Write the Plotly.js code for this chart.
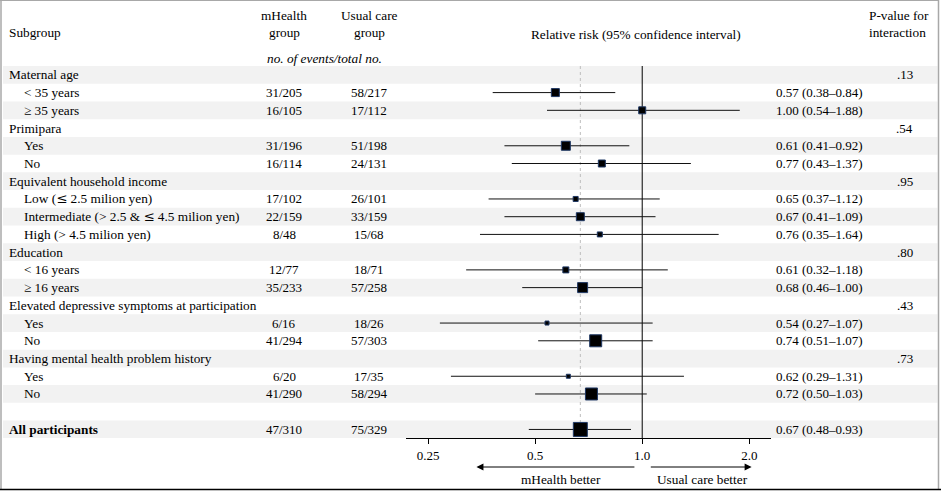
<!DOCTYPE html>
<html><head><meta charset="utf-8">
<script src="https://cdn.plot.ly/plotly-3.0.1.min.js"></script>
<style>html,body{margin:0;padding:0;background:#fff}#chart{width:941px;height:493px}</style>
</head><body><div id="chart"></div>
<script>
// ---------------- DATA ----------------
const rowLabels = ['Maternal age', '< 35 years', '≥ 35 years',
  'Primipara', 'Yes', 'No',
  'Equivalent household income', 'Low (≤ 2.5 milion yen)', 'Intermediate (> 2.5 & ≤ 4.5 milion yen)', 'High (> 4.5 milion yen)',
  'Education', '< 16 years', '≥ 16 years',
  'Elevated depressive symptoms at participation', 'Yes', 'No',
  'Having mental health problem history', 'Yes', 'No',
  '', 'All participants'];
const rowKind = ['group','sub','sub','group','sub','sub','group','sub','sub','sub',
  'group','sub','sub','group','sub','sub','group','sub','sub','blank','total'];
const mHealthEvents = ['', '31/205', '16/105', '', '31/196', '16/114', '', '17/102', '22/159', '8/48',
  '', '12/77', '35/233', '', '6/16', '41/294', '', '6/20', '41/290', '', '47/310'];
const usualEvents = ['', '58/217', '17/112', '', '51/198', '24/131', '', '26/101', '33/159', '15/68',
  '', '18/71', '57/258', '', '18/26', '57/303', '', '17/35', '58/294', '', '75/329'];
const rr = [null, 0.57, 1.00, null, 0.61, 0.77, null, 0.65, 0.67, 0.76,
  null, 0.61, 0.68, null, 0.54, 0.74, null, 0.62, 0.72, null, 0.67];
const ciLow = [null, 0.38, 0.54, null, 0.41, 0.43, null, 0.37, 0.41, 0.35,
  null, 0.32, 0.46, null, 0.27, 0.51, null, 0.29, 0.50, null, 0.48];
const ciHigh = [null, 0.84, 1.88, null, 0.92, 1.37, null, 1.12, 1.09, 1.64,
  null, 1.18, 1.00, null, 1.07, 1.07, null, 1.31, 1.03, null, 0.93];
const pInteraction = ['.13', '', '', '.54', '', '', '.95', '', '', '',
  '.80', '', '', '.43', '', '', '.73', '', '', '', ''];
const overallRR = 0.67;
const tickVals = [0.25, 0.5, 1, 2];
const tickText = ['0.25', '0.5', '1.0', '2.0'];

// ---------------- STYLE ----------------
const boxSizes = [0, 8, 7, 0, 9, 7, 0, 5, 8, 5, 0, 6, 10, 0, 4, 12, 0, 4, 12, 0, 14];
const W = 941, H = 493;
const FONT = '"Liberation Serif", "Times New Roman", Times, serif';
const FS = 13;
const FS_LABEL = 13.3;
const px = p => p / W;
const py = p => 1 - p / H;
const fmt = v => v.toFixed(2);
// wider rendering of the ≤ sign, as in the source figure
const styleLabel = s => s.replace(/≤/g, "<span style=\"font-family:'DejaVu Serif'\">≤</span>");

// ---------------- TRACES ----------------
const lineX = [], lineY = [];
rr.forEach((v, i) => { if (v !== null) { lineX.push(ciLow[i], ciHigh[i], null); lineY.push(i, i, null); } });
const mIdx = rr.map((v, i) => v !== null ? i : -1).filter(i => i >= 0);

const traces = [
  { type: 'scatter', mode: 'lines', x: lineX, y: lineY, line: { color: '#111', width: 1 }, hoverinfo: 'skip' },
  { type: 'scatter', mode: 'markers', x: mIdx.map(i => rr[i]), y: mIdx, opacity: 1,
    marker: { symbol: 'square', color: '#000', opacity: 1, size: mIdx.map(i => boxSizes[i]), line: { color: '#1f3864', width: 1 } },
    hoverinfo: 'skip' }
];

// ---------------- ANNOTATIONS ----------------
const ann = [];
const txt = (text, x, y, xanchor, yref, size) => ({
  text, x, y, xref: 'paper', yref: yref || 'y', xanchor: xanchor || 'left', yanchor: 'middle',
  showarrow: false, font: { family: FONT, size: size || FS, color: '#000' }
});

rowLabels.forEach((lab, i) => {
  if (!lab) return;
  const t = rowKind[i] === 'total' ? '<b>' + lab + '</b>' : styleLabel(lab);
  ann.push(txt(t, px(rowKind[i] === 'sub' ? 22 : 7), i, 'left', 'y', FS_LABEL));
  if (mHealthEvents[i]) ann.push(txt(mHealthEvents[i], px(284), i, 'center'));
  if (usualEvents[i]) ann.push(txt(usualEvents[i], px(369), i, 'center'));
  if (rr[i] !== null) ann.push(txt(fmt(rr[i]) + ' (' + fmt(ciLow[i]) + '–' + fmt(ciHigh[i]) + ')', px(774), i, 'left'));
  if (pInteraction[i]) ann.push(txt(pInteraction[i], px(915), i, 'right'));
});

// header
ann.push(txt('Subgroup', px(7), py(32), 'left', 'paper', FS_LABEL));
ann.push(txt('mHealth', px(284), py(15), 'center', 'paper', FS_LABEL));
ann.push(txt('group', px(284), py(32.5), 'center', 'paper', FS_LABEL));
ann.push(txt('Usual care', px(369), py(15), 'center', 'paper', FS_LABEL));
ann.push(txt('group', px(369), py(32.5), 'center', 'paper', FS_LABEL));
ann.push(txt('<i>no. of events/total no.</i>', px(324), py(58), 'center', 'paper', FS_LABEL));
ann.push(txt('Relative risk (95% confidence interval)', px(636), py(34), 'center', 'paper', FS_LABEL));
ann.push(txt('P-value for', px(867), py(15), 'left', 'paper', FS_LABEL));
ann.push(txt('interaction', px(867), py(33), 'left', 'paper', FS_LABEL));

// direction arrows & labels
const arrowLeft = [0.96, 0.342];
const arrowRight = [1.047, 2.03];
[arrowLeft, arrowRight].forEach(a => ann.push({
  text: '', x: Math.log10(a[1]), y: py(467), xref: 'x', yref: 'paper',
  ax: Math.log10(a[0]), ay: 0, axref: 'x', ayref: 'pixel',
  showarrow: true, arrowhead: 2, arrowsize: 1.4, arrowwidth: 1, arrowcolor: '#000', standoff: 0, startstandoff: 0
}));
ann.push(txt('mHealth better', px(561), py(479), 'center', 'paper', FS_LABEL));
ann.push(txt('Usual care better', px(702), py(479), 'center', 'paper', FS_LABEL));

// ---------------- SHAPES ----------------
const shapes = [];
rowLabels.forEach((lab, i) => {
  if (i % 2 === 0) shapes.push({ type: 'rect', xref: 'paper', yref: 'y', x0: px(3), x1: px(937.5), y0: i - 0.5, y1: i + 0.5,
    fillcolor: '#f2f2f2', line: { width: 0 }, layer: 'below' });
});
shapes.push({ type: 'line', xref: 'x', yref: 'y', x0: overallRR, x1: overallRR, y0: -0.5, y1: rowLabels.length - 0.5,
  line: { color: '#bdbdbd', width: 1, dash: 'dot' }, layer: 'below' });
shapes.push({ type: 'line', xref: 'x', yref: 'y', x0: 1, x1: 1, y0: -0.5, y1: rowLabels.length - 0.5,
  line: { color: '#000', width: 1 }, layer: 'below' });
// frame
shapes.push({ type: 'line', xref: 'paper', yref: 'paper', x0: px(1), x1: px(1), y0: py(0), y1: py(490), line: { color: '#a8a8a8', width: 1.5 } });
shapes.push({ type: 'line', xref: 'paper', yref: 'paper', x0: px(938.5), x1: px(938.5), y0: py(0), y1: py(490), line: { color: '#a8a8a8', width: 1.5 } });
shapes.push({ type: 'line', xref: 'paper', yref: 'paper', x0: px(0), x1: px(939), y0: py(0.5), y1: py(0.5), line: { color: '#a8a8a8', width: 1 } });
shapes.push({ type: 'line', xref: 'paper', yref: 'paper', x0: px(0), x1: px(941), y0: py(489.5), y1: py(489.5), line: { color: '#000', width: 1.6 } });

// ---------------- LAYOUT ----------------
const pxPerDecade = 355.8;
const axLeftPx = 406, axRightPx = 771, tick025Px = 428;
const r0 = Math.log10(0.25) - (tick025Px - axLeftPx) / pxPerDecade;
const r1 = r0 + (axRightPx - axLeftPx) / pxPerDecade;

const layout = {
  width: W, height: H, margin: { l: 0, r: 0, t: 0, b: 0, pad: 0 },
  paper_bgcolor: '#fff', plot_bgcolor: 'rgba(0,0,0,0)', showlegend: false,
  font: { family: FONT, size: FS, color: '#000' },
  xaxis: { type: 'log', range: [r0, r1], domain: [px(axLeftPx), px(axRightPx)],
    showgrid: false, zeroline: false, showline: true, linecolor: '#000', linewidth: 1,
    ticks: 'outside', ticklen: 5, tickwidth: 1, tickcolor: '#000',
    tickvals: tickVals, ticktext: tickText, tickfont: { family: FONT, size: FS, color: '#000' }, fixedrange: true },
  yaxis: { range: [rowLabels.length - 0.5, -0.5], domain: [py(438.3), py(66)], visible: false, fixedrange: true },
  annotations: ann, shapes: shapes
};

Plotly.newPlot('chart', traces, layout, { staticPlot: true, displayModeBar: false });
</script></body></html>
